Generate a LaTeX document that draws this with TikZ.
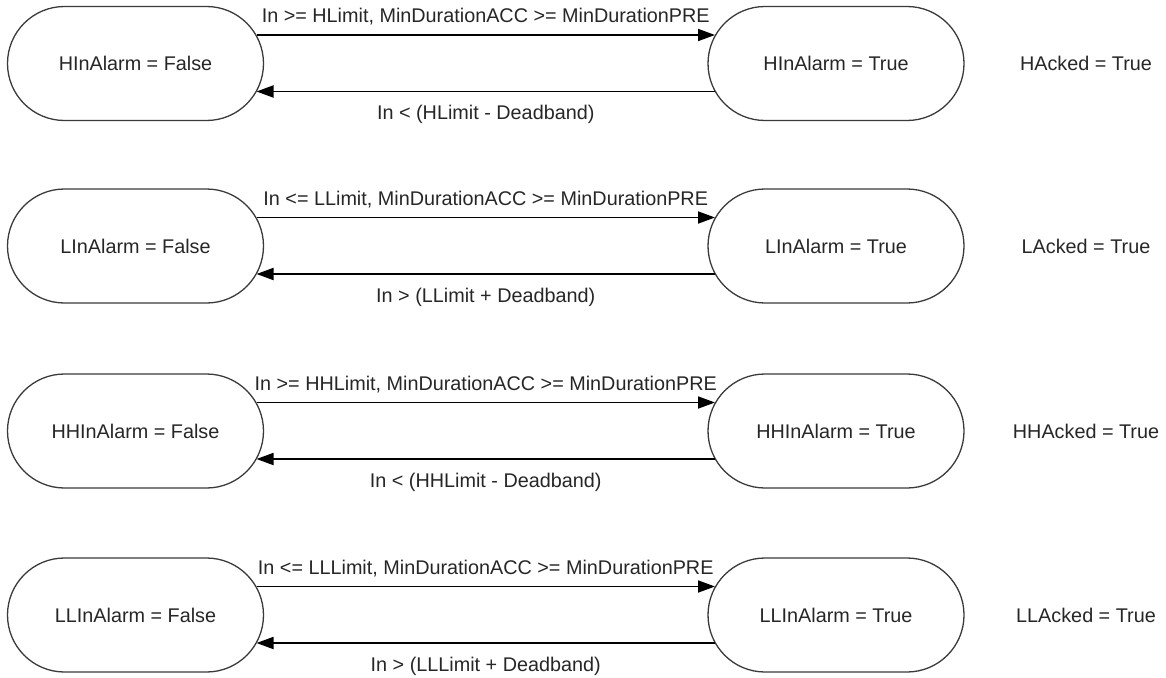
\documentclass[tikz,border=0pt]{standalone}
\usepackage{fontspec}
\setmainfont{Liberation Sans}
\usetikzlibrary{shapes.misc,arrows.meta}
\definecolor{txt}{HTML}{262626}
\definecolor{brd}{HTML}{3A3A3A}
\tikzset{
  state/.style={rounded rectangle, draw=brd, line width=1.3pt, minimum width=256pt, minimum height=114pt, inner sep=0pt, text=txt, font=\fontsize{19.8}{24}\selectfont},
  plain/.style={inner sep=0pt, text=txt, font=\fontsize{19.8}{24}\selectfont},
  arr/.style={line width=1.8pt, -{Triangle[length=17pt,width=12pt]}},
  toplab/.style={midway, anchor=base, yshift=12pt, inner sep=0pt, text=txt, font=\fontsize{19.8}{24}\selectfont},
  botlab/.style={midway, anchor=base, yshift=-28pt, inner sep=0pt, text=txt, font=\fontsize{19.8}{24}\selectfont},
  pr/.style={shift={(121,-28.5)}},
  pl/.style={shift={(-121,-28.5)}},
  qr/.style={shift={(121,28)}},
  ql/.style={shift={(-121,28)}}
}
\begin{document}
\begin{tikzpicture}[x=1pt,y=-1pt]
\useasboundingbox (0,0) rectangle (1166,677);
% row 1
\node[state] (f1) at (135.5,63.5) {HInAlarm = False};
\node[state] (t1) at (836,63.5) {HInAlarm = True};
\node[plain] (a1) at (1086,63.5) {HAcked = True};
\draw[arr] ([pr]f1.center) -- node[toplab] {In >= HLimit, MinDurationACC >= MinDurationPRE} ([pl]t1.center);
\draw[arr] ([ql]t1.center) -- node[botlab] {In < (HLimit - Deadband)} ([qr]f1.center);
% row 2
\node[state] (f2) at (135.5,246) {LInAlarm = False};
\node[state] (t2) at (836,246) {LInAlarm = True};
\node[plain] (a2) at (1086,246) {LAcked = True};
\draw[arr] ([pr]f2.center) -- node[toplab] {In <= LLimit, MinDurationACC >= MinDurationPRE} ([pl]t2.center);
\draw[arr] ([ql]t2.center) -- node[botlab] {In > (LLimit + Deadband)} ([qr]f2.center);
% row 3
\node[state] (f3) at (135.5,431) {HHInAlarm = False};
\node[state] (t3) at (836,431) {HHInAlarm = True};
\node[plain] (a3) at (1086,431) {HHAcked = True};
\draw[arr] ([pr]f3.center) -- node[toplab] {In >= HHLimit, MinDurationACC >= MinDurationPRE} ([pl]t3.center);
\draw[arr] ([ql]t3.center) -- node[botlab] {In < (HHLimit - Deadband)} ([qr]f3.center);
% row 4
\node[state] (f4) at (135.5,615) {LLInAlarm = False};
\node[state] (t4) at (836,615) {LLInAlarm = True};
\node[plain] (a4) at (1086,615) {LLAcked = True};
\draw[arr] ([pr]f4.center) -- node[toplab] {In <= LLLimit, MinDurationACC >= MinDurationPRE} ([pl]t4.center);
\draw[arr] ([ql]t4.center) -- node[botlab] {In > (LLLimit + Deadband)} ([qr]f4.center);
\end{tikzpicture}
\end{document}
